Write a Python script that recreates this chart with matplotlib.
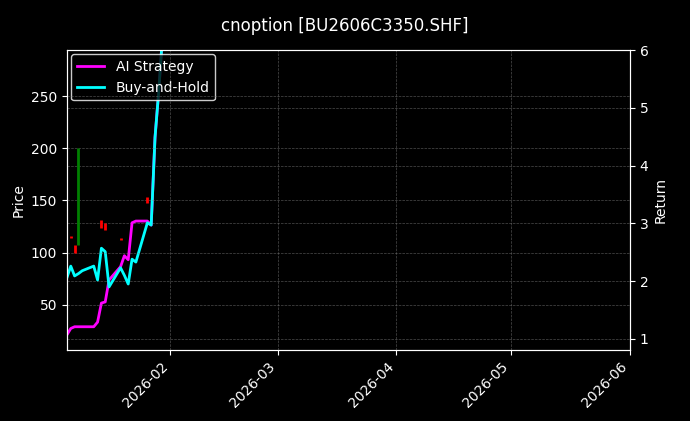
import numpy as np
import pandas as pd
import matplotlib
matplotlib.use("Agg")
from matplotlib import pyplot as plt
import matplotlib.dates as mdates

dates = pd.to_datetime([
    "2026-01-05", "2026-01-06", "2026-01-07", "2026-01-08", "2026-01-09",
    "2026-01-12", "2026-01-13", "2026-01-14", "2026-01-15", "2026-01-16",
    "2026-01-19", "2026-01-20", "2026-01-21", "2026-01-22", "2026-01-23",
    "2026-01-26", "2026-01-27", "2026-01-28", "2026-01-29", "2026-01-30",
])
buy_hold = [2.06, 2.26, 2.09, 2.13, 2.18, 2.26, 2.02, 2.57, 2.51, 1.90,
            2.23, 2.10, 1.95, 2.38, 2.33, 3.01, 2.97, 4.49, 5.31, 6.30]
ai_strategy = [1.07, 1.18, 1.21, 1.21, 1.21, 1.21, 1.29, 1.62, 1.64, 2.02,
               2.25, 2.44, 2.37, 3.01, 3.04, 3.04, 2.97, 4.49, 5.31, 6.30]

# candle bodies (date, open, close)
candle_dates = pd.to_datetime(["2026-01-06", "2026-01-07", "2026-01-08", "2026-01-14",
                               "2026-01-15", "2026-01-19", "2026-01-26"])
candle_open = [116, 107, 107, 131, 128, 114, 153]
candle_close = [114, 100, 200, 124, 122, 112, 148]

fig = plt.figure(figsize=(6.9, 4.21), dpi=100, facecolor="black")
ax = fig.add_axes([0.097, 0.169, 0.816, 0.712], facecolor="black")
ax2 = ax.twinx()

for d, o, c in zip(candle_dates, candle_open, candle_close):
    col = "green" if c >= o else "red"
    ax.vlines(d, min(o, c), max(o, c), color=col, linewidth=2)

ax2.plot(dates, ai_strategy, color="magenta", linewidth=2, label="AI Strategy")
ax2.plot(dates, buy_hold, color="cyan", linewidth=2, label="Buy-and-Hold")

ax.set_xlim(pd.Timestamp("2026-01-05"), pd.Timestamp("2026-06-01"))
ax.set_ylim(7, 294)
ax2.set_ylim(0.81, 6.0)
ax.set_ylabel("Price", color="white")
ax2.set_ylabel("Return", color="white")
ax.xaxis.set_major_locator(mdates.MonthLocator())
ax.xaxis.set_major_formatter(mdates.DateFormatter("%Y-%m"))
plt.setp(ax.get_xticklabels(), rotation=45, ha="right")
ax.grid(True, color="gray", linestyle="--", linewidth=0.5, alpha=0.6)
ax2.grid(True, axis="y", color="gray", linestyle="--", linewidth=0.5, alpha=0.6)
for a in (ax, ax2):
    a.tick_params(colors="white")
    for s in a.spines.values():
        s.set_color("white")
ax.set_zorder(ax2.get_zorder() + 1)
ax.patch.set_visible(False)
ax2.patch.set_visible(True)
ax2.patch.set_facecolor("black")

leg = ax2.legend(loc="upper left", facecolor="black", edgecolor="white", labelcolor="white",
                 borderaxespad=0.3)
leg.set_zorder(10)
fig.suptitle("cnoption [BU2606C3350.SHF]", color="white", fontsize=12, y=0.96)
fig.savefig("out.png", facecolor="black")
